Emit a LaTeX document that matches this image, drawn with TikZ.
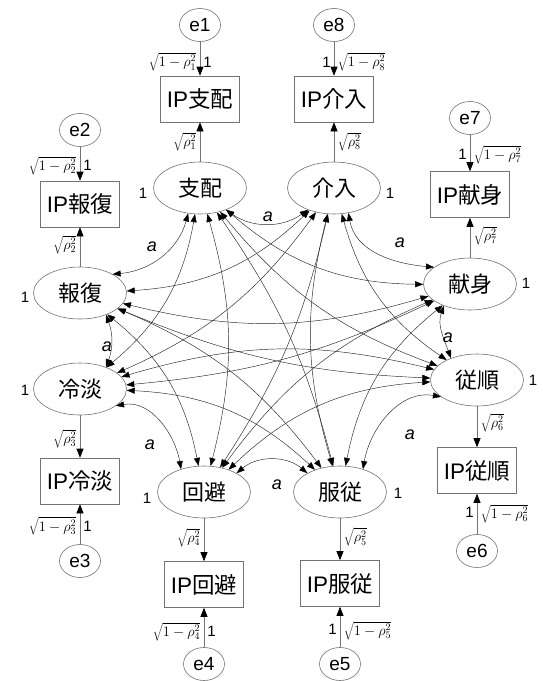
\documentclass[tikz,border=0pt]{standalone}
\usepackage{fontspec}
\setmainfont{Liberation Sans}
\newfontfamily\cjk{Noto Sans CJK JP}
\usetikzlibrary{arrows.meta,shapes.geometric}
\begin{document}
\begin{tikzpicture}[x=1pt,y=1pt,
  latent/.style={draw=black!55, line width=0.6pt, ellipse, minimum width=93pt, minimum height=52pt, inner sep=0pt, font=\cjk\fontsize{22}{22}\selectfont},
  obs/.style={draw=black!55, line width=0.6pt, rectangle, minimum width=79pt, minimum height=46pt, inner sep=0pt, font=\fontsize{22.5}{22.5}\selectfont},
  err/.style={draw=black!55, line width=0.6pt, ellipse, minimum width=41pt, minimum height=33pt, inner sep=0pt, font=\fontsize{19}{19}\selectfont},
  reg/.style={draw=black!55, line width=0.6pt, -{Triangle[length=9pt,width=7pt,color=black]}},
  cov/.style={draw=black!85, line width=0.45pt, {Triangle[length=8pt,width=6pt,color=black]}-{Triangle[length=8pt,width=6pt,color=black]}},
  one/.style={font=\fontsize{15}{15}\selectfont, inner sep=3pt},
  alab/.style={font=\itshape\fontsize{18}{18}\selectfont, inner sep=0pt},
  rho/.style={font=\fontsize{14.4}{14.4}\selectfont, inner sep=3.5pt},
]
\fill[white] (0,0) rectangle (543,-681);
\useasboundingbox (0,0) rectangle (543,-681);

% latent variables
\node[latent] (L1) at (200,-188) {支配};
\node[latent] (L8) at (334,-188) {介入};
\node[latent] (L7) at (470,-284) {献身};
\node[latent] (L6) at (477,-380) {従順};
\node[latent] (L5) at (340,-492) {服従};
\node[latent] (L4) at (204,-492) {回避};
\node[latent] (L3) at (80,-389) {冷淡};
\node[latent] (L2) at (80,-293) {報復};

% observed variables
\node[obs] (B1) at (200,-99) {IP{\cjk 支配}};
\node[obs] (B8) at (334,-99) {IP{\cjk 介入}};
\node[obs] (B2) at (80,-204) {IP{\cjk 報復}};
\node[obs] (B7) at (470,-194.5) {IP{\cjk 献身}};
\node[obs] (B3) at (80,-481) {IP{\cjk 冷淡}};
\node[obs] (B6) at (477,-470.5) {IP{\cjk 従順}};
\node[obs] (B4) at (204,-584.5) {IP{\cjk 回避}};
\node[obs] (B5) at (340,-583.5) {IP{\cjk 服従}};

% errors
\node[err] (e1) at (200,-25) {e1};
\node[err] (e8) at (334,-25) {e8};
\node[err] (e2) at (80,-130) {e2};
\node[err] (e7) at (470,-118) {e7};
\node[err] (e3) at (80,-561) {e3};
\node[err] (e6) at (477,-551) {e6};
\node[err] (e4) at (204,-664) {e4};
\node[err] (e5) at (340,-664) {e5};

% regression paths
\draw[reg] (e1) -- node[rho,left,pos=0.6] (r1e) {$\sqrt{1-\rho_1^2}$} node[one,right,pos=0.6] (o1e) {1} (B1);
\draw[reg] (L1) -- node[rho,left,pos=0.5] (r1) {$\sqrt{\rho_1^2}$} (B1);
\draw[reg] (e8) -- node[rho,right,pos=0.6] (r8e) {$\sqrt{1-\rho_8^2}$} node[one,left,pos=0.6] (o8e) {1} (B8);
\draw[reg] (L8) -- node[rho,right,pos=0.5] (r8) {$\sqrt{\rho_8^2}$} (B8);
\draw[reg] (e2) -- node[rho,left,pos=0.55] (r2e) {$\sqrt{1-\rho_2^2}$} node[one,right,pos=0.55] (o2e) {1} (B2);
\draw[reg] (L2) -- node[rho,left,pos=0.55] (r2) {$\sqrt{\rho_2^2}$} (B2);
\draw[reg] (e7) -- node[rho,right,pos=0.55] (r7e) {$\sqrt{1-\rho_7^2}$} node[one,left,pos=0.55] (o7e) {1} (B7);
\draw[reg] (L7) -- node[rho,right,pos=0.55] (r7) {$\sqrt{\rho_7^2}$} (B7);
\draw[reg] (L3) -- node[rho,left,pos=0.55] (r3) {$\sqrt{\rho_3^2}$} (B3);
\draw[reg] (e3) -- node[rho,left,pos=0.45] (r3e) {$\sqrt{1-\rho_3^2}$} node[one,right,pos=0.45] (o3e) {1} (B3);
\draw[reg] (L6) -- node[rho,right,pos=0.4] (r6) {$\sqrt{\rho_6^2}$} (B6);
\draw[reg] (e6) -- node[rho,right,pos=0.5] (r6e) {$\sqrt{1-\rho_6^2}$} node[one,left,pos=0.55] (o6e) {1} (B6);
\draw[reg] (L4) -- node[rho,left,pos=0.45] (r4) {$\sqrt{\rho_4^2}$} (B4);
\draw[reg] (e4) -- node[rho,left,pos=0.4] (r4e) {$\sqrt{1-\rho_4^2}$} node[one,right,pos=0.4] (o4e) {1} (B4);
\draw[reg] (L5) -- node[rho,right,pos=0.45] (r5) {$\sqrt{\rho_5^2}$} (B5);
\draw[reg] (e5) -- node[rho,right,pos=0.4] (r5e) {$\sqrt{1-\rho_5^2}$} node[one,left,pos=0.45] (o5e) {1} (B5);

% variances
\node[one] (v1) at (143,-193) {1};
\node[one] (v8) at (390,-193) {1};
\node[one] (v2) at (25,-297) {1};
\node[one] (v3) at (25,-390) {1};
\node[one] (v7) at (526,-283) {1};
\node[one] (v6) at (533,-380) {1};
\node[one] (v4) at (147,-498) {1};
\node[one] (v5) at (398,-493) {1};

% adjacent covariances
\draw[cov] (L1.-40) to[out=-35,in=-145] (L8.-140);
\draw[cov] (L2.30) to[out=5,in=-105] (L1.-115);
\draw[cov] (L8.-60) to[out=-80,in=175] (L7.155);
\draw[cov] (L2.-40) to[out=-70,in=70] (L3.40);
\draw[cov] (L7.-140) to[out=-110,in=110] (L6.140);
\draw[cov] (L3.-25) to[out=10,in=100] (L4.135);
\draw[cov] (L6.-155) to[out=170,in=80] (L5.45);
\draw[cov] (L4.30) to[out=40,in=140] (L5.150);

% other covariances
\foreach \a/\b in {L7/L1,L8/L2,L1/L3,L2/L4,L3/L5,L4/L6,L5/L7,L6/L8}
  \draw[cov] (\a) to[bend left=20] (\b);
\foreach \a/\b in {L7/L2,L8/L3,L1/L4,L2/L5,L3/L6,L4/L7,L5/L8,L6/L1}
  \draw[cov] (\a) to[bend left=15] (\b);
\foreach \a/\b in {L7/L3,L8/L4,L1/L5,L6/L2}
  \draw[cov] (\a) to[bend left=10] (\b);

% a labels
\node[alab] (a18) at (268,-217) {a};
\node[alab] (a12) at (152,-247) {a};
\node[alab] (a87) at (400,-243) {a};
\node[alab] (a23) at (107,-347) {a};
\node[alab] (a76) at (448,-338) {a};
\node[alab] (a34) at (150,-445) {a};
\node[alab] (a65) at (410,-435) {a};
\node[alab] (a45) at (277,-485) {a};
\end{tikzpicture}
\end{document}
